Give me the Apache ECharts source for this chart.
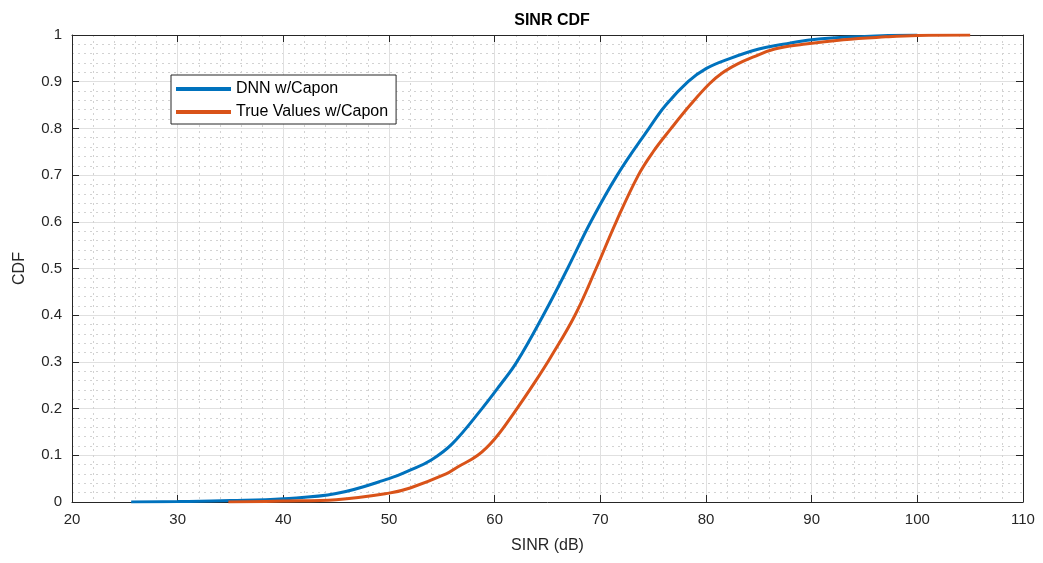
<!DOCTYPE html>
<html>
<head>
<meta charset="utf-8">
<script src="https://cdn.jsdelivr.net/npm/echarts@6/dist/echarts.min.js"></script>
<style>html,body{margin:0;padding:0;background:#fff}#c{width:1043px;height:563px}</style>
</head>
<body>
<div id="c"></div>
<script>
const titleText = 'SINR CDF';
const xName = 'SINR (dB)';
const yName = 'CDF';
const seriesNames = ['DNN w/Capon', 'True Values w/Capon'];
const blueX = [25.6, 30, 35, 40, 45, 50, 52, 54, 56, 58.8, 60.5, 62.1, 64.6, 66.9, 69.1, 71.6, 74.6, 76.2, 78.3, 80, 82.3, 85, 87.3, 90, 95, 100];
const blueY = [0, 0.001, 0.003, 0.007, 0.018, 0.05, 0.068, 0.09, 0.125, 0.2, 0.25, 0.3, 0.4, 0.5, 0.6, 0.7, 0.8, 0.85, 0.9, 0.928, 0.95, 0.97, 0.98, 0.99, 0.997, 1.0];
const orangeX = [34.8, 40, 45, 50, 52, 55.4, 56.5, 58.4, 60, 61.8, 63.9, 65.3, 67.6, 69.6, 71.5, 73.6, 75, 76.7, 78.5, 80.3, 81.5, 83, 84.5, 86.5, 89.2, 93, 97, 100, 105];
const orangeY = [0, 0.002, 0.005, 0.019, 0.03, 0.06, 0.075, 0.1, 0.135, 0.19, 0.26, 0.31, 0.4, 0.5, 0.6, 0.7, 0.75, 0.8, 0.85, 0.895, 0.918, 0.938, 0.953, 0.97, 0.98, 0.99, 0.996, 0.999, 1.0];

const font = '"Liberation Sans", Arial, Helvetica, sans-serif';
const zip = (xs, ys) => xs.map((x, i) => [x, ys[i]]);
const chart = echarts.init(document.getElementById('c'));
const gridMajor = {show: true, lineStyle: {color: '#e0e0e0', width: 1}};
const gridMinor = {show: true, lineStyle: {color: '#d2d2d2', width: 1, type: [2, 4]}};
chart.setOption({
  animation: false,
  backgroundColor: '#fff',
  title: {text: titleText, left: 547, top: 8, textAlign: 'center',
    textStyle: {fontFamily: font, fontSize: 16, fontWeight: 'bold', color: '#000'}},
  grid: {left: 72, right: 20, top: 35, bottom: 61, show: false},
  legend: {
    left: 171, top: 75, orient: 'vertical', data: seriesNames,
    icon: 'rect', itemWidth: 55, itemHeight: 4, itemGap: 7,
    backgroundColor: '#fff', borderColor: '#262626', borderWidth: 1,
    padding: [6, 8, 4, 5],
    textStyle: {fontFamily: font, fontSize: 16, color: '#000'}
  },
  xAxis: [{
    type: 'value', min: 20, max: 110, interval: 10,
    name: xName, nameLocation: 'middle', nameGap: 36,
    nameTextStyle: {fontFamily: font, fontSize: 16, color: '#262626'},
    axisLine: {show: true, onZero: false, lineStyle: {color: '#262626'}},
    axisTick: {show: true, inside: true, length: 7, lineStyle: {color: '#262626'}},
    axisLabel: {fontFamily: font, fontSize: 15, color: '#262626', margin: 10},
    splitLine: gridMajor,
    minorTick: {show: true, splitNumber: 5, length: 0},
    minorSplitLine: gridMinor
  }, {
    type: 'value', min: 20, max: 110, interval: 10, position: 'top',
    axisLine: {show: true, onZero: false, lineStyle: {color: '#262626'}},
    axisTick: {show: true, inside: true, length: 7, lineStyle: {color: '#262626'}},
    axisLabel: {show: false}, splitLine: {show: false}
  }],
  yAxis: [{
    type: 'value', min: 0, max: 1, interval: 0.1,
    name: yName, nameLocation: 'middle', nameGap: 44, nameRotate: 90,
    nameTextStyle: {fontFamily: font, fontSize: 16, color: '#262626'},
    axisLine: {show: true, onZero: false, lineStyle: {color: '#262626'}},
    axisTick: {show: true, inside: true, length: 7, lineStyle: {color: '#262626'}},
    axisLabel: {fontFamily: font, fontSize: 15, color: '#262626', margin: 10,
      formatter: v => String(+v.toFixed(1))},
    splitLine: gridMajor,
    minorTick: {show: true, splitNumber: 5, length: 0},
    minorSplitLine: gridMinor
  }, {
    type: 'value', min: 0, max: 1, interval: 0.1, position: 'right',
    axisLine: {show: true, onZero: false, lineStyle: {color: '#262626'}},
    axisTick: {show: true, inside: true, length: 7, lineStyle: {color: '#262626'}},
    axisLabel: {show: false}, splitLine: {show: false}
  }],
  series: [{
    name: seriesNames[0], type: 'line', data: zip(blueX, blueY),
    showSymbol: false, symbol: 'none', smooth: 0.4,
    itemStyle: {color: '#0072BD'},
    lineStyle: {color: '#0072BD', width: 3}
  }, {
    name: seriesNames[1], type: 'line', data: zip(orangeX, orangeY),
    showSymbol: false, symbol: 'none', smooth: 0.4,
    itemStyle: {color: '#D95319'},
    lineStyle: {color: '#D95319', width: 3}
  }]
});
</script>
</body>
</html>
